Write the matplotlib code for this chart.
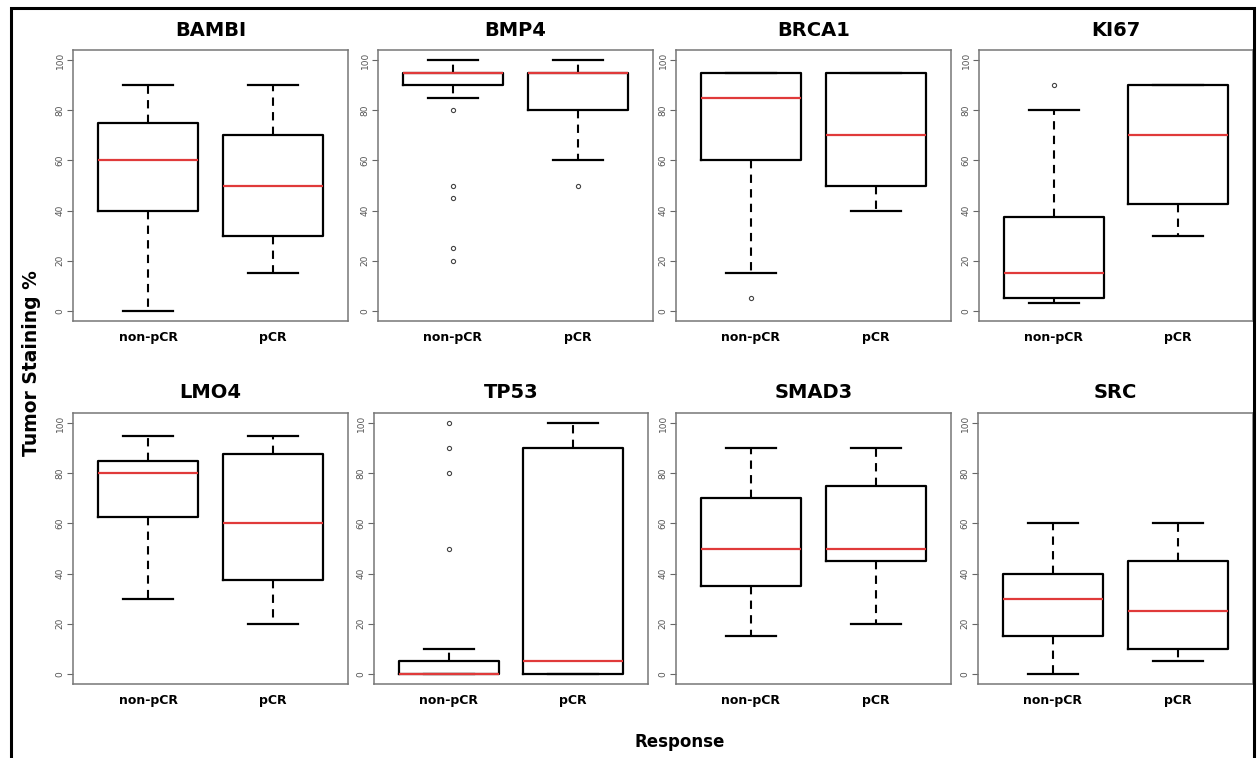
import matplotlib.pyplot as plt
from matplotlib.patches import Rectangle

genes = ['BAMBI', 'BMP4', 'BRCA1', 'KI67', 'LMO4', 'TP53', 'SMAD3', 'SRC']
groups = ['non-pCR', 'pCR']

# per gene: [non-pCR, pCR]
whis_lo = [[0, 15], [85, 60], [15, 40], [3, 30], [30, 20], [0, 0], [15, 20], [0, 5]]
q1 = [[40, 30], [90, 80], [60, 50], [5, 42.5], [62.5, 37.5], [0, 0], [35, 45], [15, 10]]
med = [[60, 50], [95, 95], [85, 70], [15, 70], [80, 60], [0, 5], [50, 50], [30, 25]]
q3 = [[75, 70], [95, 95], [95, 95], [37.5, 90], [85, 87.5], [5, 90], [70, 75], [40, 45]]
whis_hi = [[90, 90], [100, 100], [95, 95], [80, 90], [95, 95], [10, 100], [90, 90], [60, 60]]
outliers = [[[], []], [[80, 50, 45, 25, 20], [50]], [[5], []], [[90], []],
            [[], []], [[50, 80, 90, 100], []], [[], []], [[], []]]

W, H = 1260, 758
fig = plt.figure(figsize=(W / 100, H / 100), dpi=100)

# axes boxes in pixels (left, right) per panel, rows top/bottom
xs = [(73, 348), (378, 653), (676, 951), (979, 1253),
      (73, 348), (374, 648), (676, 951), (978, 1253)]
rows = [(50, 321), (413, 684)]

for i, gene in enumerate(genes):
    x0, x1 = xs[i]
    top, bot = rows[i // 4]
    ax = fig.add_axes([x0 / W, 1 - bot / H, (x1 - x0) / W, (bot - top) / H])
    stats = []
    for j, g in enumerate(groups):
        stats.append(dict(whislo=whis_lo[i][j], q1=q1[i][j], med=med[i][j],
                          q3=q3[i][j], whishi=whis_hi[i][j],
                          fliers=outliers[i][j], label=g))
    ax.bxp(stats, positions=[1, 2], widths=0.8, capwidths=0.4,
           boxprops=dict(color='black', lw=1.6),
           medianprops=dict(color='#e03a3a', lw=1.6),
           whiskerprops=dict(color='black', lw=1.5, linestyle=(0, (4, 3))),
           capprops=dict(color='black', lw=1.6),
           flierprops=dict(marker='o', markersize=3, markerfacecolor='none',
                           markeredgecolor='#444444', markeredgewidth=0.8))
    ax.set_xlim(0.4, 2.6)
    ax.set_ylim(-4, 104)
    ax.set_yticks([0, 20, 40, 60, 80, 100])
    ax.tick_params(axis='y', length=4, width=0.8, color='#666666', pad=2,
                   labelsize=6.5, labelcolor='#555555', labelrotation=90)
    for lab in ax.get_yticklabels():
        lab.set_va('center')
    ax.tick_params(axis='x', length=0, pad=7, labelsize=9)
    for lab in ax.get_xticklabels():
        lab.set_fontweight('bold')
    for sp in ax.spines.values():
        sp.set_color('#777777')
        sp.set_linewidth(1.1)
    ax.text(0.5, 1 + 20 / (bot - top), gene, transform=ax.transAxes,
            ha='center', va='center', fontsize=14, fontweight='bold')

fig.text(32 / W, 1 - 363 / H, 'Tumor Staining %', rotation=90, ha='center',
         va='center', fontsize=13.5, fontweight='bold')
fig.text(680 / W, 1 - 742 / H, 'Response', ha='center', va='center',
         fontsize=12, fontweight='bold')

# outer frame
fig.add_artist(Rectangle((11 / W, -0.05), (1254 - 11) / W, 1.05 - 8 / H,
                         transform=fig.transFigure, fill=False,
                         edgecolor='black', lw=2.2))

fig.savefig('out.png', dpi=100)
